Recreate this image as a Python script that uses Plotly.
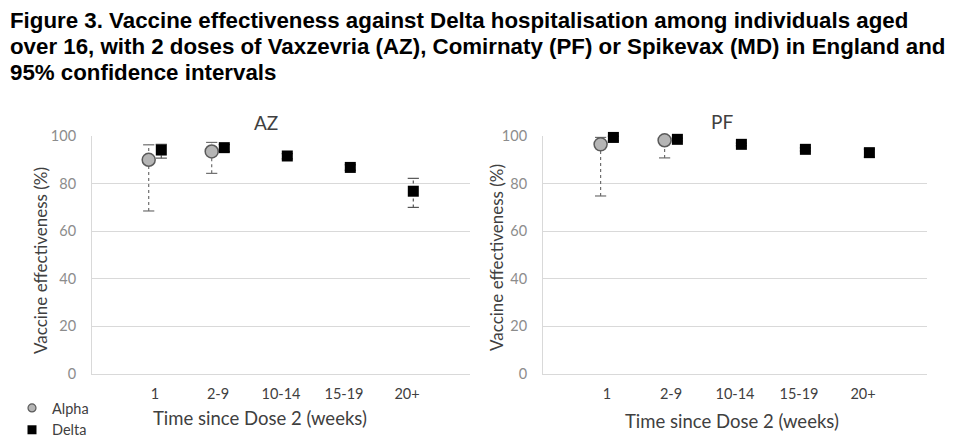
import plotly.graph_objects as go

# ---------------- data ----------------
categories = ["1", "2-9", "10-14", "15-19", "20+"]

az_alpha_ve = [90, 93.5, None, None, None]
az_alpha_lo = [68.5, 84.3, None, None, None]
az_alpha_hi = [96.3, 97.3, None, None, None]

az_delta_ve = [94.1, 95.1, 91.6, 86.8, 76.8]
az_delta_lo = [90.7, 93.5, 90.4, 85.6, 70.0]
az_delta_hi = [96.5, 96.4, 92.6, 87.9, 82.2]

pf_alpha_ve = [96.5, 98.2, None, None, None]
pf_alpha_lo = [74.8, 90.8, None, None, None]
pf_alpha_hi = [99.4, 99.7, None, None, None]

pf_delta_ve = [99.4, 98.6, 96.5, 94.4, 93.0]
pf_delta_lo = [98.0, 97.9, 95.9, 93.7, 91.1]
pf_delta_hi = [99.9, 99.1, 97.0, 95.0, 94.5]

y_ticks = [0, 20, 40, 60, 80, 100]

title_lines = [
    "Figure 3. Vaccine effectiveness against Delta hospitalisation among individuals aged",
    "over 16, with 2 doses of Vaxzevria (AZ), Comirnaty (PF) or Spikevax (MD) in England and",
    "95% confidence intervals",
]

# ---------------- style ----------------
W, H = 965, 437
FONT = "Lato"
GRID = "#d9d9d9"
OFFSET = 0.1  # horizontal dodge of the two series within a category

fig = go.Figure()


def add_series(ve, lo, hi, xaxis, yaxis, offset, name, marker, whisker_color, whisker_dash):
    xs = [i + 1 + offset for i in range(len(categories))]
    wx, wy, cx, cy = [], [], [], []
    for x, v, l, h in zip(xs, ve, lo, hi):
        if v is None or l is None or h is None:
            continue
        wx += [x, x, None]
        wy += [l, h, None]
        cx += [x, x]
        cy += [l, h]
    fig.add_trace(go.Scatter(x=wx, y=wy, mode="lines", xaxis=xaxis, yaxis=yaxis,
                             line=dict(color=whisker_color, width=1.2, dash=whisker_dash),
                             showlegend=False, hoverinfo="skip", cliponaxis=False))
    fig.add_trace(go.Scatter(x=cx, y=cy, mode="markers", xaxis=xaxis, yaxis=yaxis,
                             marker=dict(symbol="line-ew", size=8,
                                         line=dict(color=whisker_color, width=1.2)),
                             showlegend=False, hoverinfo="skip", cliponaxis=False))
    px = [x for x, v in zip(xs, ve) if v is not None]
    py = [v for v in ve if v is not None]
    fig.add_trace(go.Scatter(x=px, y=py, mode="markers", xaxis=xaxis, yaxis=yaxis,
                             name=name, legendgroup=name, showlegend=False,
                             marker=marker, cliponaxis=False))


alpha_marker = dict(symbol="circle", size=13, color="#b5b5b5",
                    line=dict(color="#5a5a5a", width=1.5))
delta_marker = dict(symbol="square", size=11, color="#000000",
                    line=dict(color="#000000", width=0))

add_series(az_alpha_ve, az_alpha_lo, az_alpha_hi, "x", "y", -OFFSET, "Alpha",
           alpha_marker, "#6e6e6e", "dot")
add_series(az_delta_ve, az_delta_lo, az_delta_hi, "x", "y", OFFSET, "Delta",
           delta_marker, "#555555", "dot")
add_series(pf_alpha_ve, pf_alpha_lo, pf_alpha_hi, "x2", "y2", -OFFSET, "Alpha",
           alpha_marker, "#6e6e6e", "dot")
add_series(pf_delta_ve, pf_delta_lo, pf_delta_hi, "x2", "y2", OFFSET, "Delta",
           delta_marker, "#555555", "dot")

# legend entries (smaller symbols, as in the original key)
fig.add_trace(go.Scatter(x=[None], y=[None], mode="markers", name="Alpha", legendgroup="Alpha",
                         marker=dict(symbol="circle", size=8, color="#b5b5b5",
                                     line=dict(color="#5a5a5a", width=1.2))))
fig.add_trace(go.Scatter(x=[None], y=[None], mode="markers", name="Delta", legendgroup="Delta",
                         marker=dict(symbol="square", size=9, color="#000000")))

ydom = [1 - 374 / H, 1 - 136 / H]

xaxis_common = dict(range=[0, 6], tickmode="array",
                    tickvals=list(range(1, len(categories) + 1)), ticktext=categories,
                    showgrid=False, zeroline=False, showline=True, linecolor=GRID,
                    linewidth=1, ticks="", ticklabelstandoff=7,
                    tickfont=dict(family=FONT, size=14.5, color="#404040"), fixedrange=True)
yaxis_common = dict(range=[0, 100], tickmode="array", tickvals=y_ticks,
                    showgrid=True, gridcolor=GRID, gridwidth=1, zeroline=False,
                    showline=True, linecolor=GRID, linewidth=1, ticks="",
                    ticklabelstandoff=12,
                    tickfont=dict(family=FONT, size=14.5, color="#8c8c8c"), fixedrange=True)

fig.update_layout(
    width=W, height=H,
    margin=dict(l=0, r=0, t=0, b=0, autoexpand=False),
    paper_bgcolor="white", plot_bgcolor="white",
    xaxis=dict(domain=[92 / W, 470 / W], anchor="y", **xaxis_common),
    yaxis=dict(domain=ydom, anchor="x", **yaxis_common),
    xaxis2=dict(domain=[543 / W, 927 / W], anchor="y2", **xaxis_common),
    yaxis2=dict(domain=ydom, anchor="x2", **yaxis_common),
    showlegend=True,
    legend=dict(x=12 / W, y=1 - 392 / H, xanchor="left", yanchor="top",
                bgcolor="rgba(0,0,0,0)", tracegroupgap=0, itemwidth=30,
                font=dict(family=FONT, size=14.5, color="#404040")),
)

annotations = []
for line, yc in zip(title_lines, [21, 47, 72]):
    annotations.append(dict(text="<b>" + line + "</b>", x=8 / W, y=1 - yc / H,
                            xanchor="left", yanchor="middle", align="left",
                            font=dict(family="Liberation Sans", size=22.3, color="#000000")))
annotations += [
    dict(text="AZ", x=266 / W, y=1 - 122 / H, xanchor="center", yanchor="middle",
         font=dict(family=FONT, size=19, color="#404040")),
    dict(text="PF", x=722 / W, y=1 - 121 / H, xanchor="center", yanchor="middle",
         font=dict(family=FONT, size=19, color="#404040")),
    dict(text="Time since Dose 2 (weeks)", x=260 / W, y=1 - 418 / H,
         xanchor="center", yanchor="middle",
         font=dict(family=FONT, size=18.5, color="#404040")),
    dict(text="Time since Dose 2 (weeks)", x=732 / W, y=1 - 421 / H,
         xanchor="center", yanchor="middle",
         font=dict(family=FONT, size=18.5, color="#404040")),
    dict(text="Vaccine effectiveness (%)", x=40 / W, y=1 - 261 / H, textangle=-90,
         xanchor="center", yanchor="middle",
         font=dict(family=FONT, size=17, color="#404040")),
    dict(text="Vaccine effectiveness (%)", x=496 / W, y=1 - 258 / H, textangle=-90,
         xanchor="center", yanchor="middle",
         font=dict(family=FONT, size=17, color="#404040")),
]
for a in annotations:
    a.update(xref="paper", yref="paper", showarrow=False)
fig.update_layout(annotations=annotations)

fig.write_html("out.html", config={"displayModeBar": False},
               post_script="document.body.style.margin='0px';")
